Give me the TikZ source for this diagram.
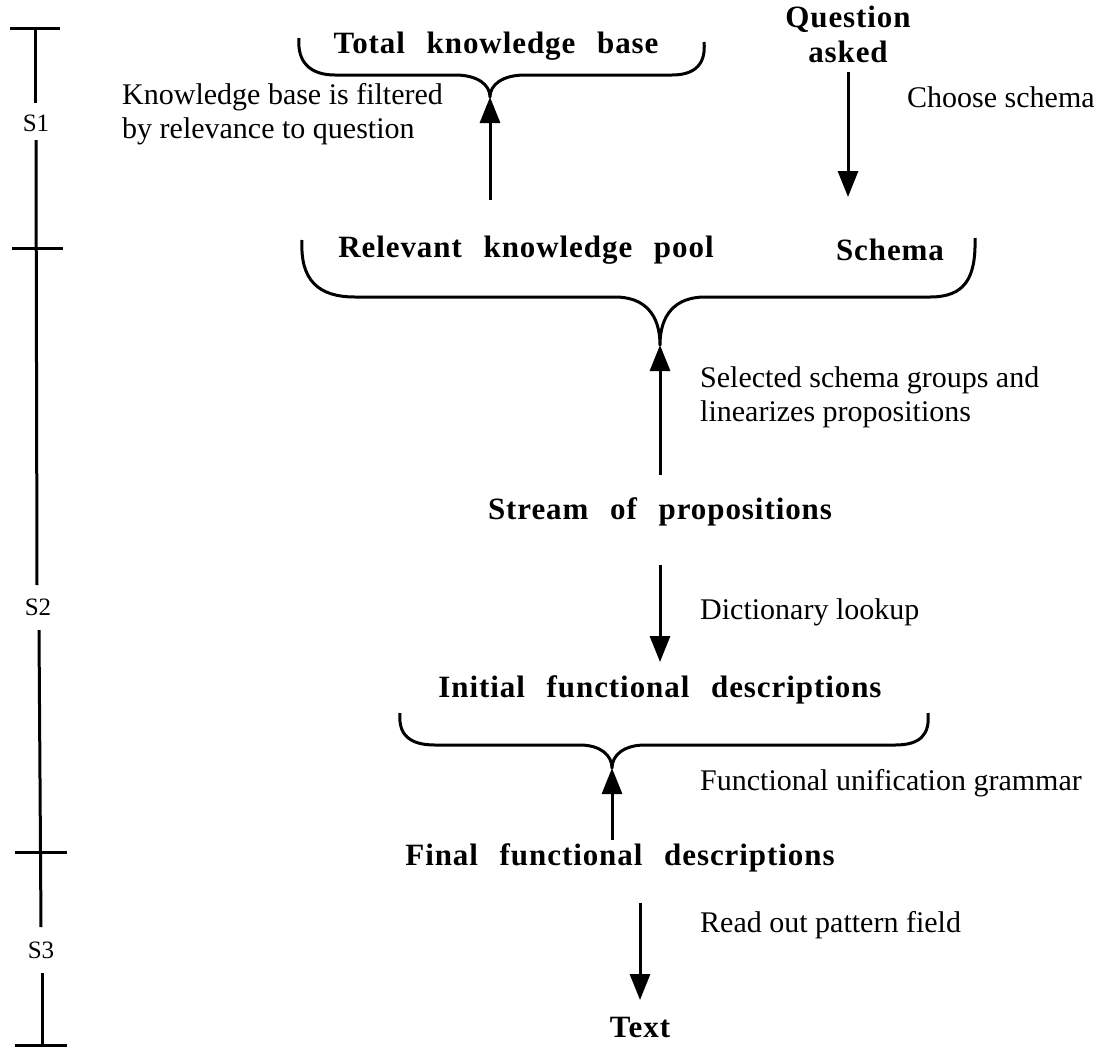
\documentclass[tikz,border=0pt]{standalone}
\usepackage{fontspec}
\setmainfont{Liberation Serif}
\newfontfamily\headfont[LetterSpace=3,WordSpace=2.5]{Liberation Serif Bold}
\usetikzlibrary{arrows.meta}

\tikzset{
  head/.style={font=\headfont\fontsize{31}{35}\selectfont, inner sep=0pt, align=center},
  note/.style={font=\fontsize{30}{34}\selectfont, inner sep=0pt, align=left, anchor=west},
  stage/.style={font=\fontsize{25}{28}\selectfont, inner sep=0pt},
  flow/.style={line width=3pt, -{Triangle[width=20pt,length=26pt]}},
  bar/.style={line width=3pt},
  brace/.style={line width=3pt, line join=round}
}

\begin{document}
\begin{tikzpicture}[x=1pt,y=-1pt]
\useasboundingbox (0,0) rectangle (1115,1047);

% ---- stage axis on the left ----
\draw[bar] (10,28) -- (60,28);
\draw[bar] (35,28) -- (35,103);
\node[stage] (s1) at (36,123) {S1};
\draw[bar] (36,140) -- (37,585);
\draw[bar] (12,248) -- (63,248);
\node[stage] (s2) at (38,607) {S2};
\draw[bar] (39,630) -- (41,927);
\draw[bar] (15,852) -- (67,852);
\node[stage] (s3) at (41,950) {S3};
\draw[bar] (42,973) -- (42,1045);
\draw[bar] (15,1045) -- (67,1045);

% ---- stage 1 ----
\node[head] (total) at (496,46) {Total knowledge base};
\node[head] (question) at (848,34) {Question\\asked};
\node[note] (filter) at (122,114) {Knowledge base is filtered\\by relevance to question};
\node[note] (choose) at (907,97) {Choose schema};

\coordinate (b1) at (490,97);
\draw[brace] (299,38) .. controls (297,62) and (310,75) .. (335,75)
  -- (455,75) .. controls (478,75) and (490,85) .. (b1)
  .. controls (490,85) and (502,75) .. (525,75)
  -- (672,75) .. controls (697,75) and (706,62) .. (704,42);

\coordinate (a1) at (490,200);
\draw[flow] (a1) -- (b1);
\coordinate (q1) at (848,72);
\coordinate (q2) at (848,197);
\draw[flow] (q1) -- (q2);

% ---- stage 2 ----
\node[head] (pool) at (526,250) {Relevant knowledge pool};
\node[head] (schema) at (890,250) {Schema};

\coordinate (b2) at (660,345);
\draw[brace] (302,240) .. controls (300,280) and (318,297) .. (355,297)
  -- (615,297) .. controls (645,297) and (660,315) .. (b2)
  .. controls (660,315) and (675,297) .. (705,297)
  -- (930,297) .. controls (965,297) and (976,278) .. (975,238);

\node[note] (select) at (700,397) {Selected schema groups and\\linearizes propositions};
\coordinate (a3) at (660,475);
\draw[flow] (a3) -- (b2);

\node[head] (stream) at (660,512) {Stream of propositions};
\node[note] (dict) at (700,612) {Dictionary lookup};
\coordinate (a4s) at (660,565);
\coordinate (a4e) at (660,662);
\draw[flow] (a4s) -- (a4e);

\node[head] (initial) at (660,690) {Initial functional descriptions};

\coordinate (b3) at (612,768);
\draw[brace] (400,713) .. controls (398,735) and (410,745) .. (435,745)
  -- (580,745) .. controls (600,745) and (612,755) .. (b3)
  .. controls (612,755) and (624,745) .. (645,745)
  -- (895,745) .. controls (920,745) and (930,735) .. (928,713);

\node[note] (fug) at (700,783) {Functional unification grammar};
\coordinate (a5) at (612,840);
\draw[flow] (a5) -- (b3);

% ---- stage 3 ----
\node[head] (final) at (620,858) {Final functional descriptions};
\node[note] (readout) at (700,925) {Read out pattern field};
\coordinate (a6s) at (640,903);
\coordinate (a6e) at (640,1000);
\draw[flow] (a6s) -- (a6e);
\node[head] (text) at (640,1027) {Text};
\end{tikzpicture}
\end{document}
